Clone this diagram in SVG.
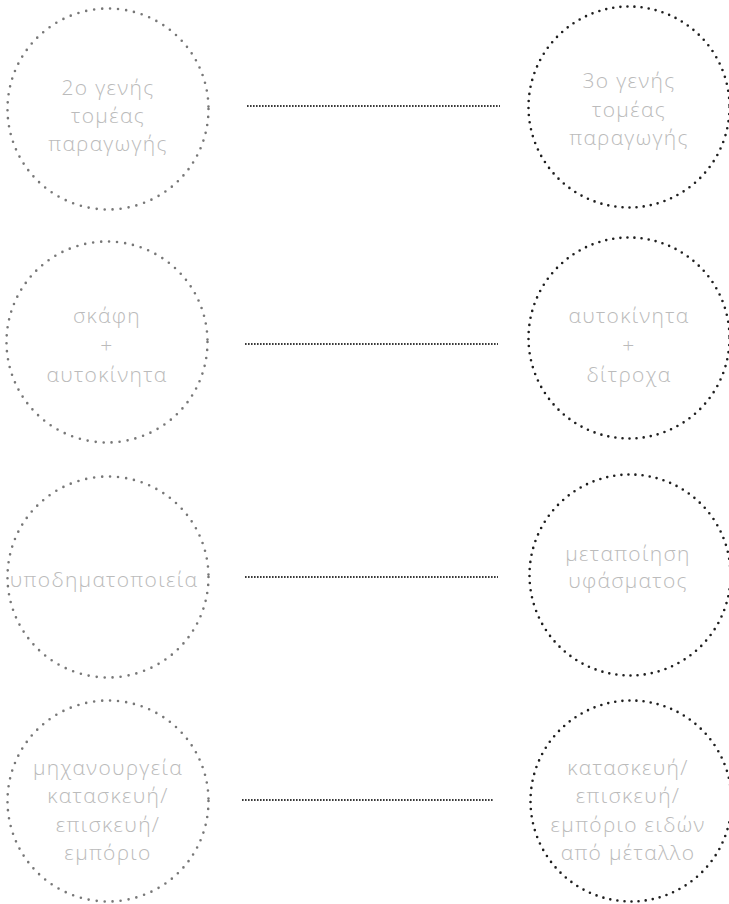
<svg xmlns="http://www.w3.org/2000/svg" width="729" height="904" viewBox="0 0 729 904">
<style>
.bg{fill:#fff}
.cl{fill:none;stroke:#777;stroke-width:2.6;stroke-linecap:round;stroke-dasharray:0 8.05}
.cr{fill:none;stroke:#1e1e1e;stroke-width:2.6;stroke-linecap:round;stroke-dasharray:0 7.14}
.ln{fill:none;stroke:#3a3a3a;stroke-width:1.8;stroke-dasharray:1.6 1.4}
text{font-family:"Open Sans","DejaVu Sans",sans-serif;font-weight:300;font-size:21px;letter-spacing:1.3px;fill:#bbbbbb;text-anchor:middle}
</style>
<rect class="bg" width="729" height="904"/>
<g id="connectors">
<line class="ln" x1="247" y1="106" x2="500" y2="106"/>
<line class="ln" x1="245" y1="344" x2="498" y2="344"/>
<line class="ln" x1="245" y1="577" x2="498" y2="577"/>
<line class="ln" x1="242" y1="800" x2="494" y2="800"/>
</g>
<g id="n1"><circle class="cl" cx="108" cy="109" r="100.5"/>
<text x="108" y="95">2o γενής</text><text x="108" y="123">τομέας</text><text x="108" y="151">παραγωγής</text></g>
<g id="n2"><circle class="cr" cx="629" cy="107" r="100.5"/>
<text x="629" y="88">3o γενής</text><text x="629" y="117">τομέας</text><text x="629" y="145">παραγωγής</text></g>
<g id="n3"><circle class="cl" cx="107" cy="342" r="100.5"/>
<text x="107" y="323">σκάφη</text><text x="107" y="353">+</text><text x="107" y="382">αυτοκίνητα</text></g>
<g id="n4"><circle class="cr" cx="629" cy="338" r="100.5"/>
<text x="629" y="323">αυτοκίνητα</text><text x="629" y="353">+</text><text x="629" y="382">δίτροχα</text></g>
<g id="n5"><circle class="cl" cx="108" cy="577" r="100.5"/>
<text x="104" y="587">υποδηματοποιεία</text></g>
<g id="n6"><circle class="cr" cx="630" cy="575" r="100.5"/>
<text x="628" y="561">μεταποίηση</text><text x="628" y="588">υφάσματος</text></g>
<g id="n7"><circle class="cl" cx="108" cy="801" r="100.5"/>
<text x="108" y="775">μηχανουργεία</text><text x="108" y="803">κατασκευή/</text><text x="108" y="832">επισκευή/</text><text x="108" y="860">εμπόριο</text></g>
<g id="n8"><circle class="cr" cx="631" cy="801" r="100.5"/>
<text x="628" y="775">κατασκευή/</text><text x="628" y="803">επισκευή/</text><text x="628" y="832">εμπόριο ειδών</text><text x="628" y="860">από μέταλλο</text></g>
</svg>
